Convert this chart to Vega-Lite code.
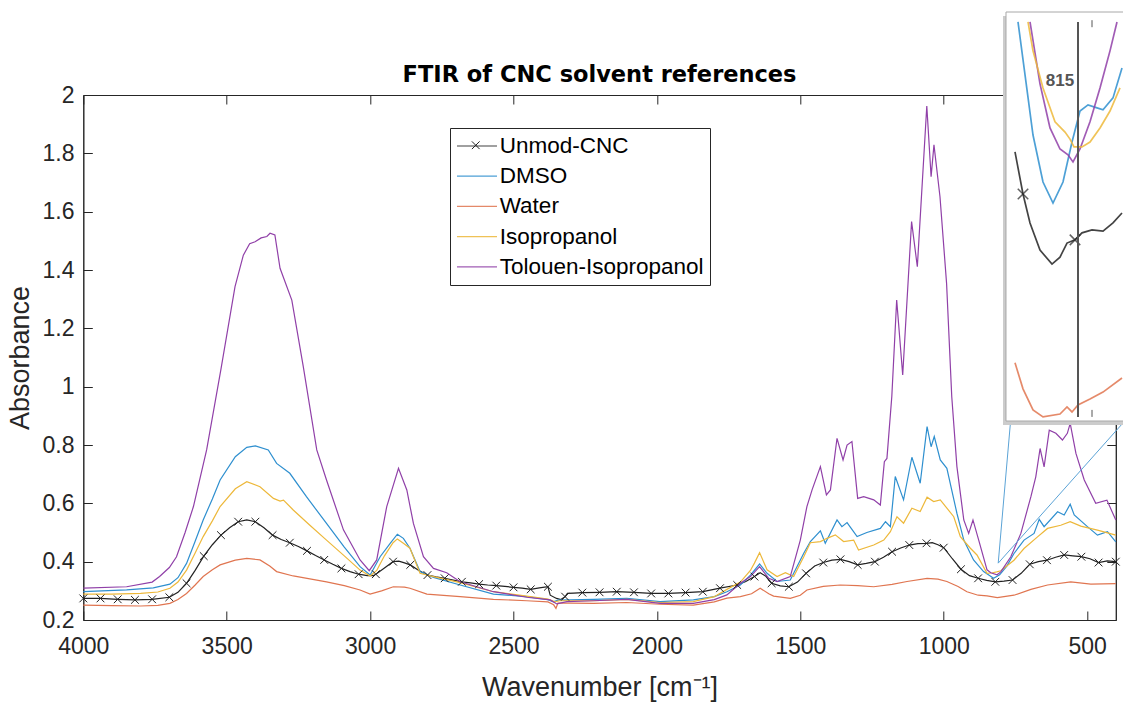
{
  "$schema": "https://vega.github.io/schema/vega-lite/v6.json",
  "width": 1032.5,
  "height": 525,
  "autosize": {"type": "none"},
  "padding": {"left": 83.3, "top": 95, "right": 7.2, "bottom": 84},
  "background": "white",
  "title": {"text": "FTIR of CNC solvent references", "font": "DejaVu Sans", "fontSize": 22.5, "fontWeight": "bold", "anchor": "middle", "frame": "group", "baseline": "alphabetic", "offset": -92.9, "color": "#000000"},
  "config": {
    "font": "Liberation Sans",
    "view": {"stroke": "#262626", "strokeWidth": 1},
    "axis": {"domainColor": "#262626", "tickColor": "#262626", "labelColor": "#262626", "titleColor": "#262626", "grid": false, "labelFont": "Liberation Sans", "titleFont": "Liberation Sans", "titleFontWeight": "normal", "labelFontSize": 23, "titleFontSize": 27, "tickSize": -9, "labelFlush": false, "labelOverlap": false}
  },
  "datasets": {
    "spec": [
      {"s":"Unmod-CNC","w":4000,"a":0.274},{"s":"Unmod-CNC","w":3940,"a":0.274},{"s":"Unmod-CNC","w":3880,"a":0.271},{"s":"Unmod-CNC","w":3820,"a":0.269},{"s":"Unmod-CNC","w":3760,"a":0.271},{"s":"Unmod-CNC","w":3700,"a":0.278},{"s":"Unmod-CNC","w":3670,"a":0.295},{"s":"Unmod-CNC","w":3640,"a":0.326},{"s":"Unmod-CNC","w":3610,"a":0.37},{"s":"Unmod-CNC","w":3580,"a":0.419},{"s":"Unmod-CNC","w":3550,"a":0.458},{"s":"Unmod-CNC","w":3520,"a":0.491},{"s":"Unmod-CNC","w":3490,"a":0.516},{"s":"Unmod-CNC","w":3460,"a":0.537},{"s":"Unmod-CNC","w":3430,"a":0.543},{"s":"Unmod-CNC","w":3400,"a":0.537},{"s":"Unmod-CNC","w":3370,"a":0.516},{"s":"Unmod-CNC","w":3340,"a":0.491},{"s":"Unmod-CNC","w":3310,"a":0.476},{"s":"Unmod-CNC","w":3280,"a":0.465},{"s":"Unmod-CNC","w":3250,"a":0.452},{"s":"Unmod-CNC","w":3220,"a":0.437},{"s":"Unmod-CNC","w":3190,"a":0.421},{"s":"Unmod-CNC","w":3160,"a":0.406},{"s":"Unmod-CNC","w":3130,"a":0.391},{"s":"Unmod-CNC","w":3100,"a":0.377},{"s":"Unmod-CNC","w":3070,"a":0.366},{"s":"Unmod-CNC","w":3040,"a":0.357},{"s":"Unmod-CNC","w":3010,"a":0.352},{"s":"Unmod-CNC","w":2990,"a":0.352},{"s":"Unmod-CNC","w":2980,"a":0.357},{"s":"Unmod-CNC","w":2950,"a":0.378},{"s":"Unmod-CNC","w":2920,"a":0.4},{"s":"Unmod-CNC","w":2900,"a":0.402},{"s":"Unmod-CNC","w":2880,"a":0.396},{"s":"Unmod-CNC","w":2860,"a":0.389},{"s":"Unmod-CNC","w":2830,"a":0.37},{"s":"Unmod-CNC","w":2800,"a":0.354},{"s":"Unmod-CNC","w":2770,"a":0.348},{"s":"Unmod-CNC","w":2740,"a":0.343},{"s":"Unmod-CNC","w":2710,"a":0.337},{"s":"Unmod-CNC","w":2680,"a":0.331},{"s":"Unmod-CNC","w":2650,"a":0.327},{"s":"Unmod-CNC","w":2620,"a":0.323},{"s":"Unmod-CNC","w":2590,"a":0.32},{"s":"Unmod-CNC","w":2560,"a":0.318},{"s":"Unmod-CNC","w":2530,"a":0.315},{"s":"Unmod-CNC","w":2500,"a":0.312},{"s":"Unmod-CNC","w":2470,"a":0.309},{"s":"Unmod-CNC","w":2440,"a":0.305},{"s":"Unmod-CNC","w":2410,"a":0.31},{"s":"Unmod-CNC","w":2380,"a":0.314},{"s":"Unmod-CNC","w":2372,"a":0.285},{"s":"Unmod-CNC","w":2350,"a":0.274},{"s":"Unmod-CNC","w":2335,"a":0.27},{"s":"Unmod-CNC","w":2320,"a":0.28},{"s":"Unmod-CNC","w":2312,"a":0.291},{"s":"Unmod-CNC","w":2290,"a":0.292},{"s":"Unmod-CNC","w":2260,"a":0.294},{"s":"Unmod-CNC","w":2200,"a":0.295},{"s":"Unmod-CNC","w":2140,"a":0.297},{"s":"Unmod-CNC","w":2080,"a":0.295},{"s":"Unmod-CNC","w":2020,"a":0.291},{"s":"Unmod-CNC","w":1960,"a":0.291},{"s":"Unmod-CNC","w":1900,"a":0.294},{"s":"Unmod-CNC","w":1840,"a":0.297},{"s":"Unmod-CNC","w":1780,"a":0.309},{"s":"Unmod-CNC","w":1720,"a":0.32},{"s":"Unmod-CNC","w":1690,"a":0.332},{"s":"Unmod-CNC","w":1660,"a":0.349},{"s":"Unmod-CNC","w":1640,"a":0.362},{"s":"Unmod-CNC","w":1620,"a":0.35},{"s":"Unmod-CNC","w":1600,"a":0.326},{"s":"Unmod-CNC","w":1570,"a":0.317},{"s":"Unmod-CNC","w":1540,"a":0.314},{"s":"Unmod-CNC","w":1510,"a":0.33},{"s":"Unmod-CNC","w":1480,"a":0.36},{"s":"Unmod-CNC","w":1450,"a":0.385},{"s":"Unmod-CNC","w":1420,"a":0.397},{"s":"Unmod-CNC","w":1390,"a":0.405},{"s":"Unmod-CNC","w":1360,"a":0.408},{"s":"Unmod-CNC","w":1330,"a":0.4},{"s":"Unmod-CNC","w":1300,"a":0.389},{"s":"Unmod-CNC","w":1270,"a":0.394},{"s":"Unmod-CNC","w":1240,"a":0.4},{"s":"Unmod-CNC","w":1210,"a":0.415},{"s":"Unmod-CNC","w":1180,"a":0.434},{"s":"Unmod-CNC","w":1150,"a":0.447},{"s":"Unmod-CNC","w":1120,"a":0.457},{"s":"Unmod-CNC","w":1090,"a":0.462},{"s":"Unmod-CNC","w":1060,"a":0.463},{"s":"Unmod-CNC","w":1040,"a":0.465},{"s":"Unmod-CNC","w":1020,"a":0.458},{"s":"Unmod-CNC","w":1000,"a":0.448},{"s":"Unmod-CNC","w":970,"a":0.41},{"s":"Unmod-CNC","w":940,"a":0.374},{"s":"Unmod-CNC","w":910,"a":0.352},{"s":"Unmod-CNC","w":880,"a":0.343},{"s":"Unmod-CNC","w":850,"a":0.336},{"s":"Unmod-CNC","w":820,"a":0.331},{"s":"Unmod-CNC","w":790,"a":0.333},{"s":"Unmod-CNC","w":760,"a":0.337},{"s":"Unmod-CNC","w":730,"a":0.36},{"s":"Unmod-CNC","w":700,"a":0.391},{"s":"Unmod-CNC","w":670,"a":0.4},{"s":"Unmod-CNC","w":640,"a":0.405},{"s":"Unmod-CNC","w":610,"a":0.415},{"s":"Unmod-CNC","w":580,"a":0.423},{"s":"Unmod-CNC","w":550,"a":0.42},{"s":"Unmod-CNC","w":520,"a":0.417},{"s":"Unmod-CNC","w":490,"a":0.41},{"s":"Unmod-CNC","w":460,"a":0.397},{"s":"Unmod-CNC","w":430,"a":0.403},{"s":"Unmod-CNC","w":400,"a":0.4},

      {"s":"DMSO","w":4000,"a":0.297},{"s":"DMSO","w":3849,"a":0.303},{"s":"DMSO","w":3756,"a":0.31},{"s":"DMSO","w":3698,"a":0.323},{"s":"DMSO","w":3670,"a":0.345},{"s":"DMSO","w":3640,"a":0.394},{"s":"DMSO","w":3610,"a":0.47},{"s":"DMSO","w":3582,"a":0.543},{"s":"DMSO","w":3550,"a":0.615},{"s":"DMSO","w":3523,"a":0.68},{"s":"DMSO","w":3470,"a":0.76},{"s":"DMSO","w":3430,"a":0.792},{"s":"DMSO","w":3400,"a":0.797},{"s":"DMSO","w":3355,"a":0.783},{"s":"DMSO","w":3326,"a":0.737},{"s":"DMSO","w":3280,"a":0.703},{"s":"DMSO","w":3222,"a":0.623},{"s":"DMSO","w":3152,"a":0.531},{"s":"DMSO","w":3090,"a":0.45},{"s":"DMSO","w":3035,"a":0.383},{"s":"DMSO","w":3000,"a":0.354},{"s":"DMSO","w":2965,"a":0.417},{"s":"DMSO","w":2930,"a":0.463},{"s":"DMSO","w":2905,"a":0.494},{"s":"DMSO","w":2884,"a":0.48},{"s":"DMSO","w":2861,"a":0.446},{"s":"DMSO","w":2826,"a":0.366},{"s":"DMSO","w":2779,"a":0.346},{"s":"DMSO","w":2686,"a":0.32},{"s":"DMSO","w":2570,"a":0.289},{"s":"DMSO","w":2454,"a":0.28},{"s":"DMSO","w":2380,"a":0.27},{"s":"DMSO","w":2361,"a":0.262},{"s":"DMSO","w":2345,"a":0.268},{"s":"DMSO","w":2221,"a":0.271},{"s":"DMSO","w":2105,"a":0.274},{"s":"DMSO","w":1989,"a":0.263},{"s":"DMSO","w":1873,"a":0.269},{"s":"DMSO","w":1800,"a":0.28},{"s":"DMSO","w":1756,"a":0.297},{"s":"DMSO","w":1709,"a":0.32},{"s":"DMSO","w":1674,"a":0.354},{"s":"DMSO","w":1642,"a":0.392},{"s":"DMSO","w":1616,"a":0.36},{"s":"DMSO","w":1581,"a":0.332},{"s":"DMSO","w":1535,"a":0.337},{"s":"DMSO","w":1488,"a":0.429},{"s":"DMSO","w":1465,"a":0.469},{"s":"DMSO","w":1430,"a":0.506},{"s":"DMSO","w":1413,"a":0.463},{"s":"DMSO","w":1372,"a":0.543},{"s":"DMSO","w":1355,"a":0.52},{"s":"DMSO","w":1337,"a":0.534},{"s":"DMSO","w":1320,"a":0.511},{"s":"DMSO","w":1302,"a":0.486},{"s":"DMSO","w":1268,"a":0.5},{"s":"DMSO","w":1221,"a":0.514},{"s":"DMSO","w":1203,"a":0.537},{"s":"DMSO","w":1186,"a":0.52},{"s":"DMSO","w":1169,"a":0.692},{"s":"DMSO","w":1140,"a":0.612},{"s":"DMSO","w":1111,"a":0.758},{"s":"DMSO","w":1082,"a":0.669},{"s":"DMSO","w":1058,"a":0.863},{"s":"DMSO","w":1044,"a":0.794},{"s":"DMSO","w":1033,"a":0.829},{"s":"DMSO","w":1012,"a":0.749},{"s":"DMSO","w":989,"a":0.72},{"s":"DMSO","w":954,"a":0.566},{"s":"DMSO","w":930,"a":0.474},{"s":"DMSO","w":896,"a":0.406},{"s":"DMSO","w":861,"a":0.366},{"s":"DMSO","w":826,"a":0.343},{"s":"DMSO","w":805,"a":0.355},{"s":"DMSO","w":780,"a":0.385},{"s":"DMSO","w":755,"a":0.428},{"s":"DMSO","w":720,"a":0.474},{"s":"DMSO","w":685,"a":0.497},{"s":"DMSO","w":667,"a":0.545},{"s":"DMSO","w":650,"a":0.52},{"s":"DMSO","w":603,"a":0.571},{"s":"DMSO","w":580,"a":0.56},{"s":"DMSO","w":559,"a":0.597},{"s":"DMSO","w":545,"a":0.56},{"s":"DMSO","w":499,"a":0.52},{"s":"DMSO","w":464,"a":0.491},{"s":"DMSO","w":429,"a":0.503},{"s":"DMSO","w":400,"a":0.468},

      {"s":"Water","w":4000,"a":0.251},{"s":"Water","w":3900,"a":0.249},{"s":"Water","w":3800,"a":0.248},{"s":"Water","w":3740,"a":0.25},{"s":"Water","w":3698,"a":0.257},{"s":"Water","w":3670,"a":0.27},{"s":"Water","w":3640,"a":0.291},{"s":"Water","w":3610,"a":0.32},{"s":"Water","w":3582,"a":0.349},{"s":"Water","w":3550,"a":0.372},{"s":"Water","w":3523,"a":0.389},{"s":"Water","w":3470,"a":0.405},{"s":"Water","w":3430,"a":0.411},{"s":"Water","w":3384,"a":0.406},{"s":"Water","w":3350,"a":0.385},{"s":"Water","w":3326,"a":0.366},{"s":"Water","w":3268,"a":0.351},{"s":"Water","w":3210,"a":0.341},{"s":"Water","w":3152,"a":0.331},{"s":"Water","w":3090,"a":0.318},{"s":"Water","w":3035,"a":0.303},{"s":"Water","w":3000,"a":0.289},{"s":"Water","w":2960,"a":0.3},{"s":"Water","w":2919,"a":0.314},{"s":"Water","w":2880,"a":0.313},{"s":"Water","w":2861,"a":0.309},{"s":"Water","w":2802,"a":0.289},{"s":"Water","w":2686,"a":0.28},{"s":"Water","w":2570,"a":0.271},{"s":"Water","w":2454,"a":0.266},{"s":"Water","w":2380,"a":0.262},{"s":"Water","w":2360,"a":0.252},{"s":"Water","w":2352,"a":0.24},{"s":"Water","w":2345,"a":0.258},{"s":"Water","w":2300,"a":0.258},{"s":"Water","w":2221,"a":0.257},{"s":"Water","w":2105,"a":0.26},{"s":"Water","w":1989,"a":0.254},{"s":"Water","w":1873,"a":0.251},{"s":"Water","w":1800,"a":0.262},{"s":"Water","w":1756,"a":0.275},{"s":"Water","w":1709,"a":0.28},{"s":"Water","w":1670,"a":0.29},{"s":"Water","w":1640,"a":0.309},{"s":"Water","w":1610,"a":0.29},{"s":"Water","w":1593,"a":0.282},{"s":"Water","w":1535,"a":0.274},{"s":"Water","w":1500,"a":0.285},{"s":"Water","w":1477,"a":0.303},{"s":"Water","w":1420,"a":0.315},{"s":"Water","w":1361,"a":0.32},{"s":"Water","w":1300,"a":0.318},{"s":"Water","w":1244,"a":0.314},{"s":"Water","w":1180,"a":0.322},{"s":"Water","w":1128,"a":0.332},{"s":"Water","w":1058,"a":0.343},{"s":"Water","w":1020,"a":0.34},{"s":"Water","w":989,"a":0.332},{"s":"Water","w":950,"a":0.315},{"s":"Water","w":919,"a":0.297},{"s":"Water","w":880,"a":0.285},{"s":"Water","w":849,"a":0.283},{"s":"Water","w":813,"a":0.277},{"s":"Water","w":755,"a":0.285},{"s":"Water","w":696,"a":0.305},{"s":"Water","w":638,"a":0.32},{"s":"Water","w":557,"a":0.331},{"s":"Water","w":487,"a":0.323},{"s":"Water","w":400,"a":0.325},

      {"s":"Isopropanol","w":4000,"a":0.289},{"s":"Isopropanol","w":3900,"a":0.289},{"s":"Isopropanol","w":3800,"a":0.291},{"s":"Isopropanol","w":3740,"a":0.296},{"s":"Isopropanol","w":3698,"a":0.309},{"s":"Isopropanol","w":3670,"a":0.33},{"s":"Isopropanol","w":3640,"a":0.371},{"s":"Isopropanol","w":3610,"a":0.43},{"s":"Isopropanol","w":3582,"a":0.486},{"s":"Isopropanol","w":3550,"a":0.54},{"s":"Isopropanol","w":3523,"a":0.589},{"s":"Isopropanol","w":3470,"a":0.65},{"s":"Isopropanol","w":3430,"a":0.674},{"s":"Isopropanol","w":3384,"a":0.657},{"s":"Isopropanol","w":3337,"a":0.617},{"s":"Isopropanol","w":3314,"a":0.608},{"s":"Isopropanol","w":3302,"a":0.611},{"s":"Isopropanol","w":3268,"a":0.577},{"s":"Isopropanol","w":3210,"a":0.525},{"s":"Isopropanol","w":3152,"a":0.474},{"s":"Isopropanol","w":3090,"a":0.42},{"s":"Isopropanol","w":3035,"a":0.371},{"s":"Isopropanol","w":3000,"a":0.351},{"s":"Isopropanol","w":2977,"a":0.37},{"s":"Isopropanol","w":2950,"a":0.42},{"s":"Isopropanol","w":2920,"a":0.465},{"s":"Isopropanol","w":2905,"a":0.478},{"s":"Isopropanol","w":2884,"a":0.463},{"s":"Isopropanol","w":2861,"a":0.446},{"s":"Isopropanol","w":2826,"a":0.36},{"s":"Isopropanol","w":2779,"a":0.349},{"s":"Isopropanol","w":2686,"a":0.328},{"s":"Isopropanol","w":2570,"a":0.297},{"s":"Isopropanol","w":2454,"a":0.282},{"s":"Isopropanol","w":2380,"a":0.272},{"s":"Isopropanol","w":2355,"a":0.262},{"s":"Isopropanol","w":2340,"a":0.266},{"s":"Isopropanol","w":2221,"a":0.266},{"s":"Isopropanol","w":2105,"a":0.271},{"s":"Isopropanol","w":1989,"a":0.26},{"s":"Isopropanol","w":1873,"a":0.263},{"s":"Isopropanol","w":1800,"a":0.28},{"s":"Isopropanol","w":1756,"a":0.305},{"s":"Isopropanol","w":1709,"a":0.33},{"s":"Isopropanol","w":1674,"a":0.37},{"s":"Isopropanol","w":1660,"a":0.395},{"s":"Isopropanol","w":1642,"a":0.431},{"s":"Isopropanol","w":1616,"a":0.372},{"s":"Isopropanol","w":1581,"a":0.349},{"s":"Isopropanol","w":1552,"a":0.362},{"s":"Isopropanol","w":1523,"a":0.349},{"s":"Isopropanol","w":1488,"a":0.417},{"s":"Isopropanol","w":1465,"a":0.465},{"s":"Isopropanol","w":1430,"a":0.469},{"s":"Isopropanol","w":1407,"a":0.48},{"s":"Isopropanol","w":1378,"a":0.492},{"s":"Isopropanol","w":1349,"a":0.469},{"s":"Isopropanol","w":1314,"a":0.474},{"s":"Isopropanol","w":1297,"a":0.44},{"s":"Isopropanol","w":1244,"a":0.457},{"s":"Isopropanol","w":1209,"a":0.474},{"s":"Isopropanol","w":1186,"a":0.503},{"s":"Isopropanol","w":1163,"a":0.554},{"s":"Isopropanol","w":1140,"a":0.532},{"s":"Isopropanol","w":1111,"a":0.583},{"s":"Isopropanol","w":1082,"a":0.572},{"s":"Isopropanol","w":1058,"a":0.621},{"s":"Isopropanol","w":1035,"a":0.606},{"s":"Isopropanol","w":1012,"a":0.612},{"s":"Isopropanol","w":965,"a":0.554},{"s":"Isopropanol","w":942,"a":0.486},{"s":"Isopropanol","w":907,"a":0.446},{"s":"Isopropanol","w":884,"a":0.423},{"s":"Isopropanol","w":849,"a":0.36},{"s":"Isopropanol","w":830,"a":0.362},{"s":"Isopropanol","w":815,"a":0.365},{"s":"Isopropanol","w":801,"a":0.369},{"s":"Isopropanol","w":755,"a":0.405},{"s":"Isopropanol","w":720,"a":0.445},{"s":"Isopropanol","w":673,"a":0.485},{"s":"Isopropanol","w":638,"a":0.514},{"s":"Isopropanol","w":592,"a":0.525},{"s":"Isopropanol","w":559,"a":0.537},{"s":"Isopropanol","w":522,"a":0.522},{"s":"Isopropanol","w":464,"a":0.508},{"s":"Isopropanol","w":400,"a":0.491},

      {"s":"Tolouen-Isopropanol","w":4000,"a":0.309},{"s":"Tolouen-Isopropanol","w":3849,"a":0.314},{"s":"Tolouen-Isopropanol","w":3760,"a":0.33},{"s":"Tolouen-Isopropanol","w":3734,"a":0.349},{"s":"Tolouen-Isopropanol","w":3700,"a":0.38},{"s":"Tolouen-Isopropanol","w":3675,"a":0.417},{"s":"Tolouen-Isopropanol","w":3645,"a":0.5},{"s":"Tolouen-Isopropanol","w":3616,"a":0.589},{"s":"Tolouen-Isopropanol","w":3570,"a":0.783},{"s":"Tolouen-Isopropanol","w":3520,"a":1.06},{"s":"Tolouen-Isopropanol","w":3471,"a":1.343},{"s":"Tolouen-Isopropanol","w":3442,"a":1.451},{"s":"Tolouen-Isopropanol","w":3420,"a":1.49},{"s":"Tolouen-Isopropanol","w":3401,"a":1.497},{"s":"Tolouen-Isopropanol","w":3380,"a":1.51},{"s":"Tolouen-Isopropanol","w":3360,"a":1.515},{"s":"Tolouen-Isopropanol","w":3349,"a":1.526},{"s":"Tolouen-Isopropanol","w":3332,"a":1.52},{"s":"Tolouen-Isopropanol","w":3314,"a":1.406},{"s":"Tolouen-Isopropanol","w":3273,"a":1.297},{"s":"Tolouen-Isopropanol","w":3233,"a":1.069},{"s":"Tolouen-Isopropanol","w":3186,"a":0.783},{"s":"Tolouen-Isopropanol","w":3152,"a":0.68},{"s":"Tolouen-Isopropanol","w":3093,"a":0.509},{"s":"Tolouen-Isopropanol","w":3035,"a":0.406},{"s":"Tolouen-Isopropanol","w":3003,"a":0.369},{"s":"Tolouen-Isopropanol","w":2977,"a":0.406},{"s":"Tolouen-Isopropanol","w":2942,"a":0.589},{"s":"Tolouen-Isopropanol","w":2901,"a":0.72},{"s":"Tolouen-Isopropanol","w":2872,"a":0.646},{"s":"Tolouen-Isopropanol","w":2849,"a":0.531},{"s":"Tolouen-Isopropanol","w":2814,"a":0.417},{"s":"Tolouen-Isopropanol","w":2779,"a":0.377},{"s":"Tolouen-Isopropanol","w":2733,"a":0.362},{"s":"Tolouen-Isopropanol","w":2686,"a":0.331},{"s":"Tolouen-Isopropanol","w":2570,"a":0.297},{"s":"Tolouen-Isopropanol","w":2454,"a":0.278},{"s":"Tolouen-Isopropanol","w":2372,"a":0.269},{"s":"Tolouen-Isopropanol","w":2349,"a":0.255},{"s":"Tolouen-Isopropanol","w":2314,"a":0.263},{"s":"Tolouen-Isopropanol","w":2221,"a":0.266},{"s":"Tolouen-Isopropanol","w":2105,"a":0.271},{"s":"Tolouen-Isopropanol","w":1989,"a":0.257},{"s":"Tolouen-Isopropanol","w":1873,"a":0.257},{"s":"Tolouen-Isopropanol","w":1800,"a":0.27},{"s":"Tolouen-Isopropanol","w":1756,"a":0.286},{"s":"Tolouen-Isopropanol","w":1709,"a":0.326},{"s":"Tolouen-Isopropanol","w":1674,"a":0.349},{"s":"Tolouen-Isopropanol","w":1642,"a":0.383},{"s":"Tolouen-Isopropanol","w":1610,"a":0.343},{"s":"Tolouen-Isopropanol","w":1581,"a":0.332},{"s":"Tolouen-Isopropanol","w":1535,"a":0.349},{"s":"Tolouen-Isopropanol","w":1500,"a":0.474},{"s":"Tolouen-Isopropanol","w":1477,"a":0.589},{"s":"Tolouen-Isopropanol","w":1459,"a":0.646},{"s":"Tolouen-Isopropanol","w":1430,"a":0.726},{"s":"Tolouen-Isopropanol","w":1409,"a":0.629},{"s":"Tolouen-Isopropanol","w":1395,"a":0.646},{"s":"Tolouen-Isopropanol","w":1372,"a":0.823},{"s":"Tolouen-Isopropanol","w":1351,"a":0.749},{"s":"Tolouen-Isopropanol","w":1337,"a":0.8},{"s":"Tolouen-Isopropanol","w":1320,"a":0.812},{"s":"Tolouen-Isopropanol","w":1300,"a":0.617},{"s":"Tolouen-Isopropanol","w":1279,"a":0.623},{"s":"Tolouen-Isopropanol","w":1244,"a":0.612},{"s":"Tolouen-Isopropanol","w":1221,"a":0.594},{"s":"Tolouen-Isopropanol","w":1207,"a":0.743},{"s":"Tolouen-Isopropanol","w":1198,"a":0.754},{"s":"Tolouen-Isopropanol","w":1181,"a":0.966},{"s":"Tolouen-Isopropanol","w":1164,"a":1.297},{"s":"Tolouen-Isopropanol","w":1143,"a":1.04},{"s":"Tolouen-Isopropanol","w":1112,"a":1.566},{"s":"Tolouen-Isopropanol","w":1092,"a":1.411},{"s":"Tolouen-Isopropanol","w":1059,"a":1.962},{"s":"Tolouen-Isopropanol","w":1044,"a":1.72},{"s":"Tolouen-Isopropanol","w":1034,"a":1.829},{"s":"Tolouen-Isopropanol","w":1013,"a":1.651},{"s":"Tolouen-Isopropanol","w":990,"a":1.354},{"s":"Tolouen-Isopropanol","w":972,"a":0.966},{"s":"Tolouen-Isopropanol","w":954,"a":0.726},{"s":"Tolouen-Isopropanol","w":930,"a":0.543},{"s":"Tolouen-Isopropanol","w":913,"a":0.497},{"s":"Tolouen-Isopropanol","w":898,"a":0.543},{"s":"Tolouen-Isopropanol","w":878,"a":0.474},{"s":"Tolouen-Isopropanol","w":849,"a":0.372},{"s":"Tolouen-Isopropanol","w":836,"a":0.362},{"s":"Tolouen-Isopropanol","w":814,"a":0.355},{"s":"Tolouen-Isopropanol","w":801,"a":0.365},{"s":"Tolouen-Isopropanol","w":766,"a":0.417},{"s":"Tolouen-Isopropanol","w":731,"a":0.497},{"s":"Tolouen-Isopropanol","w":696,"a":0.623},{"s":"Tolouen-Isopropanol","w":679,"a":0.691},{"s":"Tolouen-Isopropanol","w":664,"a":0.788},{"s":"Tolouen-Isopropanol","w":650,"a":0.725},{"s":"Tolouen-Isopropanol","w":632,"a":0.851},{"s":"Tolouen-Isopropanol","w":609,"a":0.84},{"s":"Tolouen-Isopropanol","w":586,"a":0.817},{"s":"Tolouen-Isopropanol","w":569,"a":0.84},{"s":"Tolouen-Isopropanol","w":559,"a":0.874},{"s":"Tolouen-Isopropanol","w":539,"a":0.771},{"s":"Tolouen-Isopropanol","w":510,"a":0.68},{"s":"Tolouen-Isopropanol","w":470,"a":0.6},{"s":"Tolouen-Isopropanol","w":431,"a":0.611},{"s":"Tolouen-Isopropanol","w":400,"a":0.543}
    ],
    "inset": [
      {"s":"DMSO","w":875,"a":0.4166},{"s":"DMSO","w":860,"a":0.3779},{"s":"DMSO","w":850,"a":0.3618},{"s":"DMSO","w":840,"a":0.3546},{"s":"DMSO","w":830,"a":0.3618},{"s":"DMSO","w":821,"a":0.3755},{"s":"DMSO","w":813,"a":0.3861},{"s":"DMSO","w":805,"a":0.3882},{"s":"DMSO","w":796,"a":0.3872},{"s":"DMSO","w":790,"a":0.3865},{"s":"DMSO","w":780,"a":0.3906},{"s":"DMSO","w":771,"a":0.4008},
      {"s":"Tolouen-Isopropanol","w":863,"a":0.4166},{"s":"Tolouen-Isopropanol","w":853,"a":0.3954},{"s":"Tolouen-Isopropanol","w":843,"a":0.3803},{"s":"Tolouen-Isopropanol","w":833,"a":0.3731},{"s":"Tolouen-Isopropanol","w":825,"a":0.3711},{"s":"Tolouen-Isopropanol","w":820,"a":0.3687},{"s":"Tolouen-Isopropanol","w":813,"a":0.3731},{"s":"Tolouen-Isopropanol","w":803,"a":0.3824},{"s":"Tolouen-Isopropanol","w":793,"a":0.394},{"s":"Tolouen-Isopropanol","w":783,"a":0.4067},{"s":"Tolouen-Isopropanol","w":776,"a":0.4166},
      {"s":"Isopropanol","w":865,"a":0.4166},{"s":"Isopropanol","w":860,"a":0.4067},{"s":"Isopropanol","w":850,"a":0.394},{"s":"Isopropanol","w":838,"a":0.3824},{"s":"Isopropanol","w":828,"a":0.3789},{"s":"Isopropanol","w":823,"a":0.3765},{"s":"Isopropanol","w":819,"a":0.3738},{"s":"Isopropanol","w":811,"a":0.3738},{"s":"Isopropanol","w":803,"a":0.3755},{"s":"Isopropanol","w":793,"a":0.3803},{"s":"Isopropanol","w":783,"a":0.3861},{"s":"Isopropanol","w":773,"a":0.394},
      {"s":"Unmod-CNC","w":878,"a":0.3721},{"s":"Unmod-CNC","w":870,"a":0.3577},{"s":"Unmod-CNC","w":863,"a":0.3478},{"s":"Unmod-CNC","w":853,"a":0.3385},{"s":"Unmod-CNC","w":841,"a":0.3337},{"s":"Unmod-CNC","w":833,"a":0.3361},{"s":"Unmod-CNC","w":826,"a":0.3409},{"s":"Unmod-CNC","w":818,"a":0.342},{"s":"Unmod-CNC","w":811,"a":0.3444},{"s":"Unmod-CNC","w":801,"a":0.3454},{"s":"Unmod-CNC","w":790,"a":0.345},{"s":"Unmod-CNC","w":780,"a":0.3478},{"s":"Unmod-CNC","w":771,"a":0.3512},
      {"s":"Water","w":878,"a":0.2999},{"s":"Water","w":870,"a":0.291},{"s":"Water","w":860,"a":0.2838},{"s":"Water","w":850,"a":0.2814},{"s":"Water","w":833,"a":0.2824},{"s":"Water","w":826,"a":0.2848},{"s":"Water","w":821,"a":0.2831},{"s":"Water","w":815,"a":0.2855},{"s":"Water","w":803,"a":0.2875},{"s":"Water","w":790,"a":0.2899},{"s":"Water","w":771,"a":0.2947}
    ]
  },
  "resolve": {"scale": {"x": "independent", "y": "independent"}},
  "layer": [
    {
      "data": {"name": "spec"},
      "mark": {"type": "line", "strokeWidth": 1.2},
      "encoding": {
        "x": {"field": "w", "type": "quantitative", "scale": {"domain": [400, 4000], "reverse": true, "nice": false, "zero": false},
              "axis": {"orient": "bottom", "values": [4000, 3500, 3000, 2500, 2000, 1500, 1000, 500], "format": "d", "labelPadding": 24, "title": "Wavenumber [cm⁻¹]", "titlePadding": 16}},
        "y": {"field": "a", "type": "quantitative", "scale": {"domain": [0.2, 2], "nice": false, "zero": false},
              "axis": {"orient": "left", "values": [0.2, 0.4, 0.6, 0.8, 1, 1.2, 1.4, 1.6, 1.8, 2], "format": "~g", "labelPadding": 18.3, "title": "Absorbance", "titlePadding": 8}},
        "color": {"field": "s", "type": "nominal",
                  "scale": {"domain": ["Unmod-CNC", "DMSO", "Water", "Isopropanol", "Tolouen-Isopropanol"], "range": ["#222222", "#2E8FCF", "#E07550", "#EDB83A", "#9040A8"]},
                  "legend": {"orient": "none", "legendX": 366.7, "legendY": 33, "title": null, "labelFontSize": 22.5, "labelFont": "Liberation Sans", "labelColor": "#000000", "labelLimit": 0, "symbolType": "M-1.818,0H1.818", "symbolSize": 484, "symbolOffset": 9, "symbolStrokeWidth": 1.2, "padding": 6, "rowPadding": 6.2, "labelOffset": 10.7, "strokeColor": "#262626", "fillColor": "#ffffff", "cornerRadius": 0}},
        "detail": {"field": "s"}
      }
    },
    {
      "data": {"name": "spec"},
      "transform": [{"filter": "datum.s == 'Unmod-CNC' && (4000 - datum.w) % 60 == 0"}],
      "mark": {"type": "point", "filled": false, "strokeWidth": 1, "size": 60, "color": "#222222", "opacity": 1},
      "encoding": {
        "x": {"field": "w", "type": "quantitative", "scale": {"domain": [400, 4000], "reverse": true, "nice": false, "zero": false},
              "axis": {"orient": "top", "values": [4000, 3500, 3000, 2500, 2000, 1500, 1000, 500], "labels": false, "title": null}},
        "y": {"field": "a", "type": "quantitative", "scale": {"domain": [0.2, 2], "nice": false, "zero": false},
              "axis": {"orient": "right", "values": [0.2, 0.4, 0.6, 0.8, 1, 1.2, 1.4, 1.6, 1.8, 2], "labels": false, "title": null}},
        "shape": {"field": "s", "type": "nominal", "scale": {"domain": ["Unmod-CNC"], "range": ["M-1,-1L1,1M-1,1L1,-1"]},
                  "legend": {"orient": "none", "legendX": 375.2, "legendY": 33, "title": null, "labelFontSize": 22.5, "labelExpr": "''", "symbolSize": 60, "symbolStrokeColor": "#222222", "symbolFillColor": "transparent", "symbolStrokeWidth": 1, "padding": 6}}
      }
    },
    {
      "data": {"values": [{}]},
      "layer": [
        {
          "mark": {"type": "rule", "color": "#5BA3D6", "strokeWidth": 1},
          "encoding": {
            "x": {"datum": 810, "type": "quantitative", "scale": {"domain": [400, 4000], "reverse": true, "nice": false, "zero": false}, "axis": null},
            "x2": {"datum": 766},
            "y": {"datum": 0.395, "type": "quantitative", "scale": {"domain": [0.2, 2], "nice": false, "zero": false}, "axis": null},
            "y2": {"datum": 0.892}
          }
        },
        {
          "mark": {"type": "rule", "color": "#5BA3D6", "strokeWidth": 1},
          "encoding": {
            "x": {"datum": 810, "type": "quantitative", "scale": {"domain": [400, 4000], "reverse": true, "nice": false, "zero": false}, "axis": null},
            "x2": {"datum": 360},
            "y": {"datum": 0.395, "type": "quantitative", "scale": {"domain": [0.2, 2], "nice": false, "zero": false}, "axis": null},
            "y2": {"datum": 0.892}
          }
        }
      ]
    },
    {
      "layer": [
        {
          "data": {"values": [{}]},
          "mark": {"type": "rect", "color": "#cccccc", "xOffset": -3, "x2Offset": -3, "yOffset": 4, "y2Offset": 4},
          "encoding": {
            "x": {"datum": 887, "type": "quantitative", "scale": {"domain": [760, 887], "range": [1049.7, 922.7], "nice": false, "zero": false}, "axis": null},
            "x2": {"datum": 760},
            "y": {"datum": 0.28, "type": "quantitative", "scale": {"domain": [0.28, 0.42], "range": [326, -83], "nice": false, "zero": false}, "axis": null},
            "y2": {"datum": 0.42}
          }
        },
        {
          "data": {"values": [{}]},
          "mark": {"type": "rect", "fill": "#ffffff", "stroke": "#a8a8a8", "strokeWidth": 1},
          "encoding": {
            "x": {"datum": 887, "type": "quantitative", "scale": {"domain": [760, 887], "range": [1049.7, 922.7], "nice": false, "zero": false}, "axis": null},
            "x2": {"datum": 760},
            "y": {"datum": 0.28, "type": "quantitative", "scale": {"domain": [0.28, 0.42], "range": [326, -83], "nice": false, "zero": false}, "axis": null},
            "y2": {"datum": 0.42}
          }
        },
        {
          "data": {"name": "inset"},
          "mark": {"type": "line", "strokeWidth": 1.7, "opacity": 0.85},
          "encoding": {
            "x": {"field": "w", "type": "quantitative", "scale": {"domain": [760, 887], "range": [1049.7, 922.7], "nice": false, "zero": false}, "axis": null},
            "y": {"field": "a", "type": "quantitative", "scale": {"domain": [0.28, 0.42], "range": [326, -83], "nice": false, "zero": false}, "axis": null},
            "color": {"field": "s", "type": "nominal"}
          }
        },
        {
          "data": {"name": "inset"},
          "transform": [{"filter": "datum.s == 'Unmod-CNC' && (datum.w == 870 || datum.w == 818)"}],
          "mark": {"type": "point", "filled": false, "strokeWidth": 1.5, "size": 110, "color": "#222222"},
          "encoding": {
            "x": {"field": "w", "type": "quantitative", "scale": {"domain": [760, 887], "range": [1049.7, 922.7], "nice": false, "zero": false}, "axis": null},
            "y": {"field": "a", "type": "quantitative", "scale": {"domain": [0.28, 0.42], "range": [326, -83], "nice": false, "zero": false}, "axis": null},
            "shape": {"field": "s", "type": "nominal"}
          }
        },
        {
          "data": {"values": [{}]},
          "mark": {"type": "rule", "color": "#555555", "strokeWidth": 2},
          "encoding": {
            "x": {"datum": 815, "type": "quantitative", "scale": {"domain": [760, 887], "range": [1049.7, 922.7], "nice": false, "zero": false}, "axis": null},
            "y": {"datum": 0.2814, "type": "quantitative", "scale": {"domain": [0.28, 0.42], "range": [326, -83], "nice": false, "zero": false}, "axis": null},
            "y2": {"datum": 0.4166}
          }
        },
        {
          "data": {"values": [{}]},
          "mark": {"type": "rule", "color": "#555555", "strokeWidth": 1},
          "encoding": {
            "x": {"datum": 801, "type": "quantitative", "scale": {"domain": [760, 887], "range": [1049.7, 922.7], "nice": false, "zero": false}, "axis": null},
            "y": {"datum": 0.2814, "type": "quantitative", "scale": {"domain": [0.28, 0.42], "range": [326, -83], "nice": false, "zero": false}, "axis": null},
            "y2": {"datum": 0.2838}
          }
        },
        {
          "data": {"values": [{}]},
          "mark": {"type": "rule", "color": "#555555", "strokeWidth": 1},
          "encoding": {
            "x": {"datum": 801, "type": "quantitative", "scale": {"domain": [760, 887], "range": [1049.7, 922.7], "nice": false, "zero": false}, "axis": null},
            "y": {"datum": 0.4148, "type": "quantitative", "scale": {"domain": [0.28, 0.42], "range": [326, -83], "nice": false, "zero": false}, "axis": null},
            "y2": {"datum": 0.4172}
          }
        },
        {
          "data": {"values": [{}]},
          "mark": {"type": "text", "color": "#555555", "fontSize": 17, "fontWeight": "bold", "font": "Liberation Sans", "align": "center", "baseline": "middle"},
          "encoding": {
            "x": {"datum": 833, "type": "quantitative", "scale": {"domain": [760, 887], "range": [1049.7, 922.7], "nice": false, "zero": false}, "axis": null},
            "y": {"datum": 0.3964, "type": "quantitative", "scale": {"domain": [0.28, 0.42], "range": [326, -83], "nice": false, "zero": false}, "axis": null},
            "text": {"value": "815"}
          }
        }
      ]
    }
  ]
}
